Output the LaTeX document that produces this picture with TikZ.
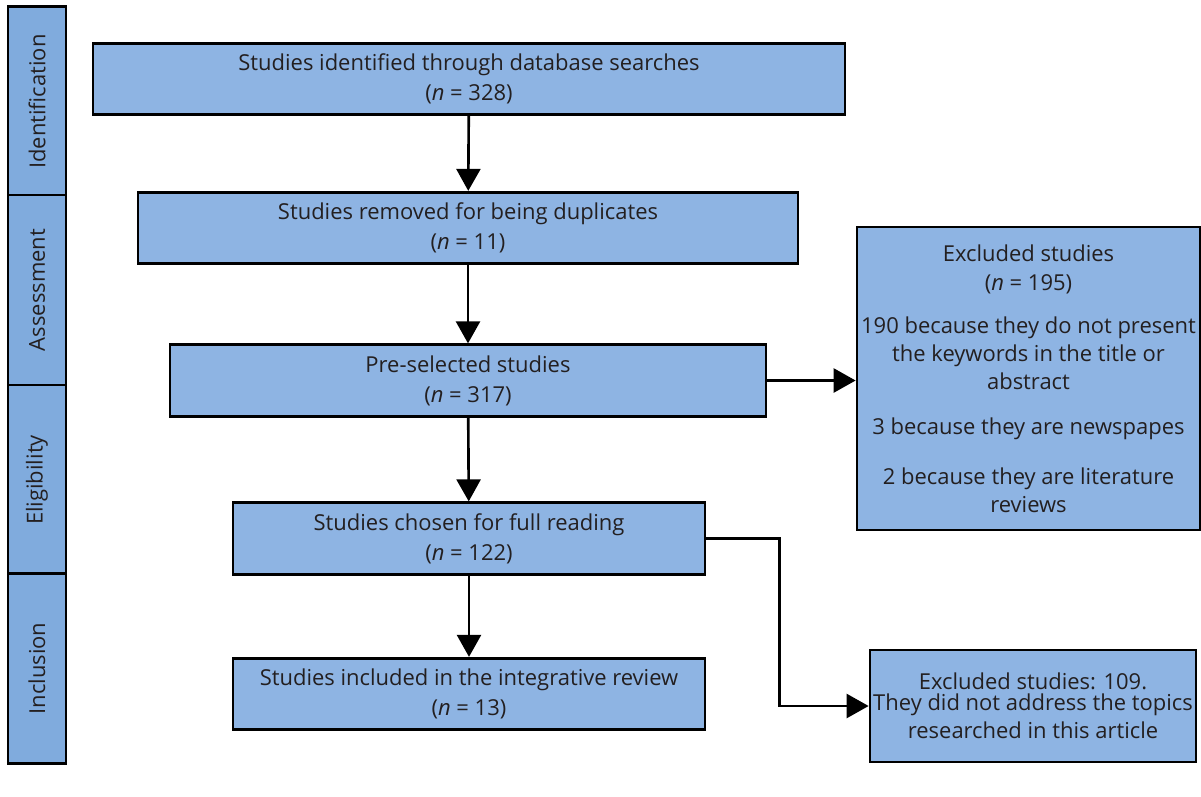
\documentclass[tikz,border=0pt]{standalone}
\usepackage{fontspec}
\setmainfont{Open Sans}
\usetikzlibrary{arrows.meta}

\definecolor{boxblue}{RGB}{142,180,227}
\definecolor{stageblue}{RGB}{128,171,221}
\definecolor{txtgray}{RGB}{35,31,32}

\tikzstyle{process} = [rectangle, draw=black, line width=1.6pt, fill=boxblue, text=txtgray, align=center, minimum height=1.43cm, font=\fontsize{12.5}{17}\selectfont]
\tikzstyle{stage} = [rectangle, draw=black, line width=1.6pt, fill=stageblue, text=txtgray, rotate=90, minimum width=3.8cm, minimum height=1.16cm, font=\fontsize{12.5}{17}\selectfont]
\tikzstyle{arrow} = [line width=1.5pt,->,>={Triangle[length=0.44cm,width=0.48cm]}]

\begin{document}
\begin{tikzpicture}[x=0.02cm, y=-0.02cm]
\useasboundingbox (0,0) rectangle (1201,796);

% stages on the left
\node (identification) [stage] at (37,101.5) {Identification};
\node (assessment) [stage] at (37,290) {Assessment};
\node (eligibility) [stage] at (37,480) {Eligibility};
\node (inclusion) [stage] at (37,668.5) {Inclusion};

% main flow
\node (found) [process, minimum width=15.04cm] at (469,79) {Studies identified through database searches\\(\textit{n} = 328)};
\node (dupes) [process, minimum width=13.2cm] at (468,228) {Studies removed for being duplicates\\(\textit{n} = 11)};
\node (presel) [process, minimum width=11.92cm] at (468,380.5) {Pre-selected studies\\(\textit{n} = 317)};
\node (fullread) [process, minimum width=9.44cm] at (469,538.5) {Studies chosen for full reading\\(\textit{n} = 122)};
\node (included) [process, minimum width=9.44cm] at (469,694) {Studies included in the integrative review\\(\textit{n} = 13)};

% exclusions
\node (excl) [process, inner xsep=1pt, minimum width=6.86cm, minimum height=6.06cm, font=\fontsize{12.5}{15.9}\selectfont] at (1028.5,378.5) {Excluded studies\\[1pt](\textit{n} = 195)\\[8.5pt]190 because they do not present\\the keywords in the title or\\abstract\\[9.6pt]3 because they are newspapes\\[12.5pt]2 because they are literature\\reviews};
\node (exclfull) [process, inner xsep=1pt, minimum width=6.52cm, minimum height=2.24cm, font=\fontsize{12.5}{15.9}\selectfont] at (1033,706) {Excluded studies: 109.\\[-4pt]They did not address the topics\\researched in this article};

\draw [arrow] (found) -- (dupes);
\draw [arrow] (dupes) -- (presel);
\draw [arrow] (presel) -- (fullread);
\draw [arrow] (fullread) -- (included);
\draw [arrow] (presel.east) -- (presel.east -| excl.west);
\draw [arrow] (fullread.east) -- ++(73,0) |- (exclfull.west);
\end{tikzpicture}
\end{document}
